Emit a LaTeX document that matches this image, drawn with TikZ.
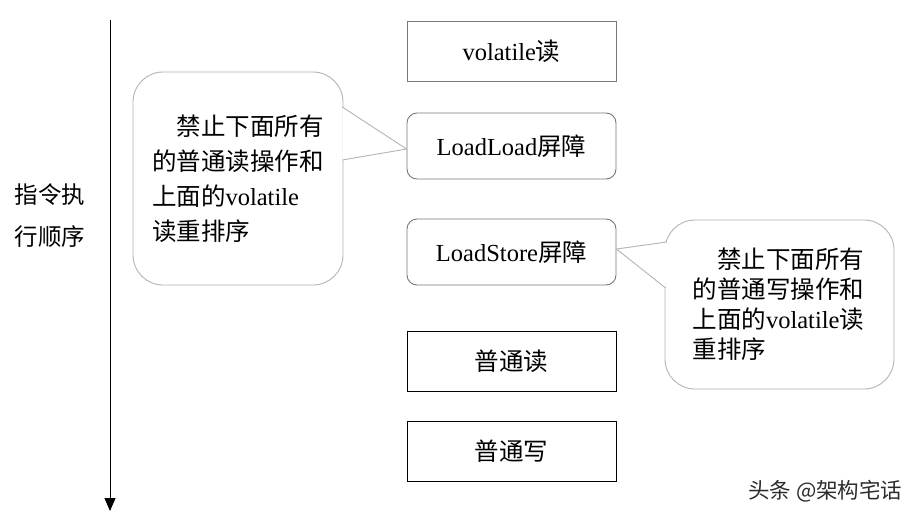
\documentclass[tikz,border=0pt]{standalone}
\usepackage{fontspec}
\setmainfont{Liberation Serif}
\newfontfamily\cjk{Noto Sans CJK SC}
\usetikzlibrary{arrows.meta,calc}
\definecolor{boxgray}{RGB}{120,120,120}
\definecolor{callgray}{RGB}{180,180,180}
\definecolor{wmgray}{RGB}{45,45,45}
\newcommand{\zhs}[1]{{\cjk #1}}
\tikzset{
  opbox/.style={draw=boxgray, line width=0.9pt, minimum width=209pt, minimum height=60pt, inner sep=0pt, font=\fontsize{24.5}{28}\selectfont},
  barbox/.style={opbox, rounded corners=10pt, minimum height=66pt},
  plainbox/.style={opbox, draw=black},
  callout/.style={draw=callgray, fill=white, line width=0.9pt, rounded corners=30pt, inner sep=0pt, align=left},
  pointer/.style={draw=callgray, line width=0.9pt},
}
\begin{document}
\begin{tikzpicture}[x=1pt, y=-1pt]
\useasboundingbox (0,0) rectangle (920,517);
\fill[white] (0,0) rectangle (920,517);

% time arrow
\coordinate (atop) at (110,20);
\coordinate (abot) at (110,511);
\draw[line width=0.9pt, -{Triangle[width=11pt,length=13pt]}] (atop) -- (abot);
\node[align=center, font={\cjk\fontsize{23.5}{42}\selectfont}] (order) at (50,216) {指令执\\行顺序};

% operation boxes
\node[opbox] (vr) at (511.5,51) {volatile\zhs{读}};
\node[barbox] (ll) at (511.5,146) {LoadLoad\zhs{屏障}};
\node[barbox] (ls) at (511.5,252) {LoadStore\zhs{屏障}};
\node[plainbox] (pr) at (511.5,361.5) {\zhs{普通读}};
\node[plainbox] (pw) at (511.5,451) {\zhs{普通写}};

% left callout
\node[callout, minimum width=210pt, minimum height=213pt, text width=172pt,
      font=\fontsize{24.5}{35}\selectfont] (lc) at (238,178.5)
  {\zhs{\hspace*{1em}禁止下面所有}\\\zhs{的普通读操作和}\\\zhs{上面的}volatile\\\zhs{读重排序}};
\coordinate (lc1) at (342.3,107);
\coordinate (lc2) at (342.3,160);
\coordinate (ltip) at ($(ll.west)+(0,3)$);
\fill[white] (lc1) -- (ltip) -- (lc2) -- cycle;
\draw[pointer] (lc1) -- (ltip) -- (lc2);

% right callout
\node[callout, minimum width=229pt, minimum height=169pt, text width=174pt,
      font=\fontsize{24.5}{30}\selectfont] (rc) at (779.5,304.5)
  {\zhs{\hspace*{1em}禁止下面所有}\\\zhs{的普通写操作和}\\\zhs{上面的}volatile\zhs{读}\\\zhs{重排序}};
\coordinate (rc1) at (666.8,242);
\coordinate (rc2) at (665.6,288);
\coordinate (rtip) at ($(ls.east)+(0,-3)$);
\fill[white] (rc1) -- (rtip) -- (rc2) -- cycle;
\draw[pointer] (rc1) -- (rtip) -- (rc2);

% watermark
\node[font={\cjk\fontsize{21.5}{24}\selectfont}, text=wmgray, anchor=east] (wm) at (906,491) {头条 @架构宅话};
\end{tikzpicture}
\end{document}
